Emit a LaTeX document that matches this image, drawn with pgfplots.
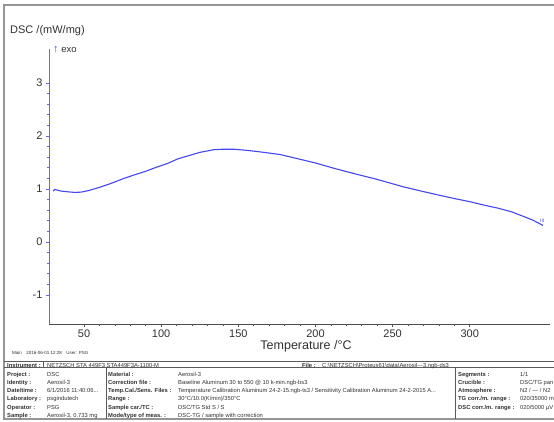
\documentclass[border=0pt]{standalone}
\usepackage{pgfplots}
\pgfplotsset{compat=1.18}
\usepackage{fontspec}
\setmainfont{Liberation Sans}
\definecolor{curve}{RGB}{70,70,245}
\definecolor{yax}{RGB}{100,100,255}
\definecolor{txt}{RGB}{50,50,50}
\definecolor{framec}{RGB}{150,150,150}
\definecolor{tabline}{RGB}{90,90,90}
\newcommand\tabfont{\fontsize{5.8}{6}\selectfont}
\newcommand\lab[3]{\node[anchor=base west, inner sep=0pt, font=\tabfont\bfseries, text=txt] at (#1,#2) {#3};}
\newcommand\val[3]{\node[anchor=base west, inner sep=0pt, font=\tabfont, text=txt] at (#1,#2) {#3};}
\pgfplotstableread{
T V
30 0.96
31 0.99
32.5 0.98
35 0.96
40 0.945
44 0.935
48 0.94
53 0.97
60 1.03
68 1.11
75 1.19
82 1.26
89.6 1.33
96 1.40
104 1.48
111 1.57
118 1.63
125 1.69
134 1.74
140 1.75
147 1.75
155 1.73
164 1.70
177 1.65
190 1.56
200 1.49
212 1.39
225 1.29
240 1.18
257 1.04
270 0.95
279 0.89
290 0.82
300 0.76
310 0.69
318 0.64
327 0.57
335 0.48
341 0.41
345 0.35
347.5 0.31
}\dsc
\begin{document}
\begin{tikzpicture}[x=1pt,y=1pt]
\useasboundingbox (0,0) rectangle (554,421);
\fill[white] (0,0) rectangle (554,421);
\draw[framec, line width=1.5pt] (554,416) -- (4,416) -- (4,2) -- (554,2);
\begin{axis}[at={(49pt,97pt)}, anchor=south west, scale only axis,
  width=501pt, height=275pt,
  xmin=27.3, xmax=352, ymin=-1.547, ymax=3.64,
  axis x line*=bottom, axis y line*=left,
  x axis line style={black!70, line width=0.6pt},
  y axis line style={yax, line width=1pt},
  xtick={50,100,150,200,250,300}, ytick={-1,0,1,2,3},
  xticklabels={50,100,150,200,250,300}, yticklabels={-1,0,1,2,3},
  minor x tick num=4, minor y tick num=4,
  tick align=outside,
  major tick length=3pt, minor tick length=2pt,
  x tick style={black!70, line width=0.6pt}, y tick style={yax, line width=0.8pt},
  ticklabel style={font=\fontsize{11}{12}\selectfont, text=txt},
  xticklabel style={yshift=1pt},
  clip=false]
\addplot[curve, line width=1.1pt, no markers] table[x=T, y=V] {\dsc};
\node[anchor=west, inner sep=0pt, font=\fontsize{5}{5}\selectfont, text=curve] at (axis cs:345.5,0.40) {III};
\end{axis}
\node[anchor=west, inner sep=0pt, font=\fontsize{11}{12}\selectfont, text=txt] at (10,390) {DSC /(mW/mg)};
\node[anchor=west, inner sep=0pt, font=\fontsize{9.5}{10}\selectfont, text=txt] at (53,371) {\textcolor{curve!70!teal}{\fontsize{11}{11}\selectfont ↑} exo};
\node[font=\fontsize{12.5}{13}\selectfont, text=txt] at (306,74.5) {Temperature /°C};
\node[anchor=west, inner sep=0pt, font=\fontsize{4.5}{5}\selectfont, text=txt] at (12,68) {Main\quad 2016-06-01 12:28\quad User: PSG};
% table lines
\draw[tabline, line width=0.6pt] (4,59.3) -- (554,59.3);
\draw[tabline, line width=0.6pt] (4,53.3) -- (554,53.3);
\draw[tabline, line width=0.5pt] (106,53.3) -- (106,2);
\draw[tabline, line width=0.5pt] (455,53.3) -- (455,2);
\draw[tabline, line width=0.4pt] (43,59.3) -- (43,53.3);
% instrument row
\lab{7}{54}{Instrument :}
\val{47}{54}{NETZSCH STA 449F3 STA449F3A-1100-M}
\lab{302}{54}{File :}
\val{322}{54}{C:\textbackslash NETZSCH\textbackslash Proteus61\textbackslash data\textbackslash Aerosil-{}-{}-3.ngb-ds3}
% column 1
\lab{7}{45}{Project :}\val{47}{45}{DSC}
\lab{7}{37}{Identity :}\val{47}{37}{Aerosil-3}
\lab{7}{29}{Date/time :}\val{47}{29}{6/1/2016 11:40:06...}
\lab{7}{20.5}{Laboratory :}\val{47}{20.5}{psgindutech}
\lab{7}{12}{Operator :}\val{47}{12}{PSG}
\lab{7}{4}{Sample :}\val{47}{4}{Aerosil-3, 0.733 mg}
% column 2
\lab{108}{45}{Material :}\val{178}{45}{Aerosil-3}
\lab{108}{37}{Correction file :}\val{178}{37}{Baseline Aluminum 30 to 550 @ 10 k-min.ngb-bs3}
\lab{108}{29}{Temp.Cal./Sens. Files :}\val{178}{29}{Temperature Calibration Aluminum 24-2-15.ngb-ts3 / Sensitivity Calibration Aluminum 24-2-2015 A...}
\lab{108}{20.5}{Range :}\val{178}{20.5}{30°C/10.0(K/min)/350°C}
\lab{108}{12}{Sample car./TC :}\val{178}{12}{DSC/TG Std S / S}
\lab{108}{4}{Mode/type of meas. :}\val{178}{4}{DSC-TG / sample with correction}
% column 3
\lab{458}{45}{Segments :}\val{520}{45}{1/1}
\lab{458}{37}{Crucible :}\val{520}{37}{DSC/TG pan}
\lab{458}{29}{Atmosphere :}\val{520}{29}{N2 / --- / N2}
\lab{458}{20.5}{TG corr./m. range :}\val{520}{20.5}{020/35000 m}
\lab{458}{12}{DSC corr./m. range :}\val{520}{12}{020/5000 µV}
\end{tikzpicture}
\end{document}
